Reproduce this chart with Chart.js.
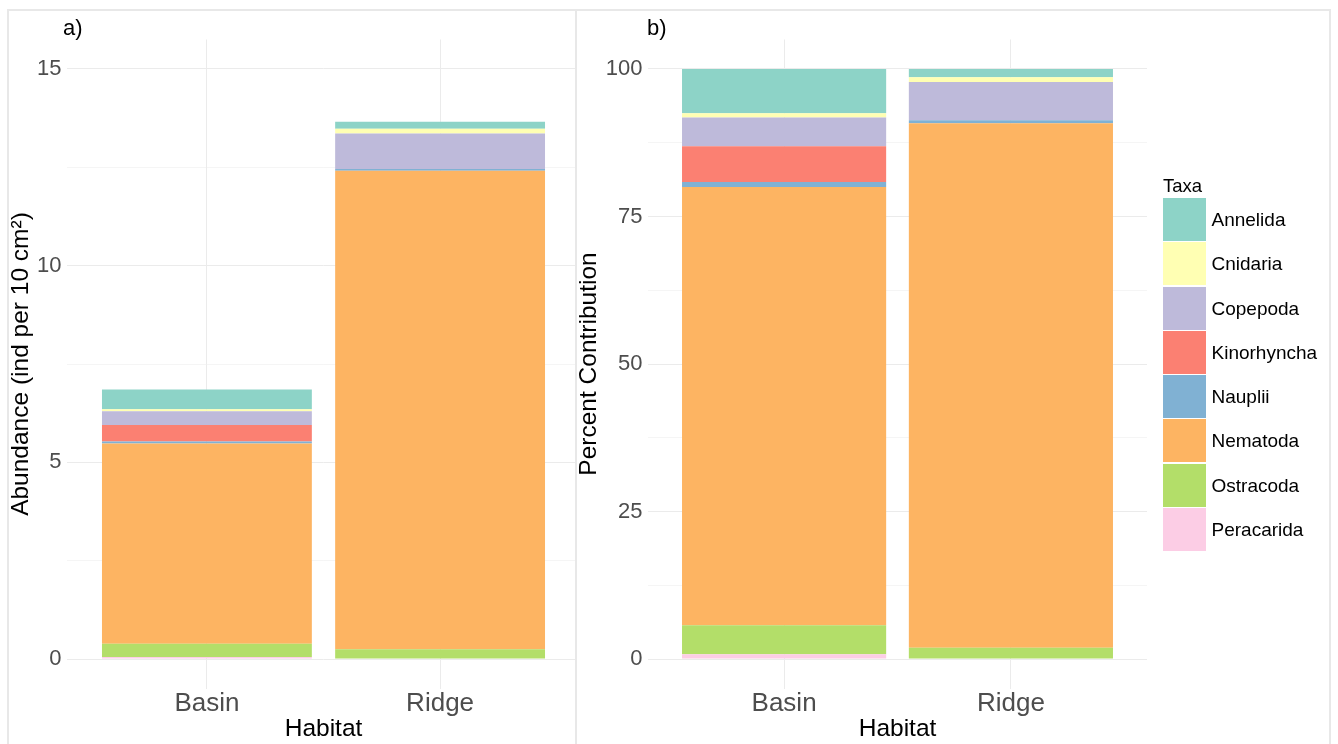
<!DOCTYPE html>
<html>
<head>
<meta charset="utf-8">
<script src="https://cdn.jsdelivr.net/npm/chart.js@4/dist/chart.umd.min.js"></script>
<style>
  html, body { margin: 0; padding: 0; background: #fff; }
  body { width: 1338px; height: 744px; position: relative; overflow: hidden;
         font-family: "Liberation Sans", Arial, Helvetica, sans-serif; }
  .panel { position: absolute; top: 0; height: 744px; overflow: hidden; }
  .frame { position: absolute; top: 9px; height: 760px; border: 2px solid #e8e8e8; box-sizing: border-box; pointer-events: none; }
  .tag { position: absolute; top: 17px; font-size: 22px; line-height: 22px; color: #000; }
  #legend { position: absolute; left: 1163px; top: 176px; color: #000; }
  #legend .title { font-size: 18.5px; line-height: 20px; height: 22px; }
  #legend .item { position: relative; height: 44.25px; }
  #legend .sw { position: absolute; left: 0; top: 0; width: 43px; height: 43px; }
  #legend .lab { position: absolute; left: 48.5px; top: 0; height: 43px; line-height: 43px; font-size: 19px; white-space: nowrap; }
</style>
</head>
<body>
<div class="panel" style="left:7px;width:568px;"><canvas id="abund" width="600" height="744"></canvas></div>
<div class="panel" style="left:575px;width:763px;"><canvas id="pct" width="763" height="744"></canvas></div>
<div class="frame" style="left:7px;width:570px;"></div>
<div class="frame" style="left:575px;width:756px;"></div>
<div class="tag" style="left:63px;">a)</div>
<div class="tag" style="left:647px;">b)</div>
<div id="legend"><div class="title">Taxa</div></div>
<script>
// Habitats along the x axis
const habitats = ['Basin', 'Ridge'];

// Taxa in legend order (first one sits on top of each stack)
const taxa = ['Annelida', 'Cnidaria', 'Copepoda', 'Kinorhyncha', 'Nauplii', 'Nematoda', 'Ostracoda', 'Peracarida'];
const taxaColors = ['#8DD3C7', '#FFFFB3', '#BEBADA', '#FB8072', '#80B1D3', '#FDB462', '#B3DE69', '#FCCDE5'];

// Abundance (ind per 10 cm²), one value per taxon
const basinAbundance = [0.50, 0.05, 0.35, 0.42, 0.05, 5.09, 0.34, 0.05];
const ridgeAbundance = [0.18, 0.12, 0.90, 0.00, 0.05, 12.16, 0.25, 0.00];

// Percent contribution, one value per taxon
const basinPercent = [7.5, 0.7, 4.9, 6.05, 0.85, 74.3, 4.9, 0.8];
const ridgePercent = [1.4, 0.8, 6.5, 0.0, 0.5, 88.9, 1.9, 0.0];

// Axis ticks (major labelled, minor only as grid)
const abundTicks = [0, 2.5, 5, 7.5, 10, 12.5, 15];
const abundLabels = [0, 5, 10, 15];
const pctTicks = [0, 12.5, 25, 37.5, 50, 62.5, 75, 87.5, 100];
const pctLabels = [0, 25, 50, 75, 100];

const TICK_GREY = '#4d4d4d';
const GRID = '#ebebeb';
const FONT = '"Liberation Sans", Arial, Helvetica, sans-serif';

function buildDatasets(basin, ridge) {
  const out = [];
  // stack from the last taxon (bottom) to the first (top)
  for (let i = taxa.length - 1; i >= 0; i--) {
    out.push({
      label: taxa[i],
      data: [{ x: 1, y: basin[i] }, { x: 2, y: ridge[i] }],
      backgroundColor: taxaColors[i],
      borderWidth: 0,
      categoryPercentage: 1,
      barPercentage: 0.9
    });
  }
  return out;
}

function makeChart(id, basin, ridge, yTitle, yMin, yMax, yTicks, yLabels, yAxisWidth, padRight) {
  return new Chart(document.getElementById(id), {
    type: 'bar',
    data: { datasets: buildDatasets(basin, ridge) },
    options: {
      responsive: false,
      animation: false,
      devicePixelRatio: 1,
      layout: { padding: { left: 0, top: 39.5, right: padRight, bottom: 0 } },
      plugins: { legend: { display: false }, tooltip: { enabled: false } },
      scales: {
        x: {
          type: 'linear',
          stacked: true,
          offset: false,
          min: 0.4,
          max: 2.6,
          afterBuildTicks: s => { s.ticks = habitats.map((h, i) => ({ value: i + 1 })); },
          afterFit: s => { s.height = 55.5; },
          border: { display: false },
          grid: { color: GRID, lineWidth: 1, drawTicks: false, offset: false },
          ticks: {
            autoSkip: false,
            maxRotation: 0,
            padding: 0,
            color: TICK_GREY,
            font: { family: FONT, size: 26 },
            callback: v => habitats[Math.round(v) - 1]
          },
          title: {
            display: true,
            text: 'Habitat',
            color: '#000',
            font: { family: FONT, size: 24.5 },
            padding: 0
          }
        },
        y: {
          stacked: true,
          min: yMin,
          max: yMax,
          afterBuildTicks: s => { s.ticks = yTicks.map(v => ({ value: v })); },
          afterFit: s => { s.width = yAxisWidth; },
          border: { display: false },
          grid: {
            color: GRID,
            drawTicks: false,
            lineWidth: c => (yLabels.includes(c.tick && c.tick.value) ? 1 : 0.5)
          },
          ticks: {
            autoSkip: false,
            padding: 5.5,
            color: TICK_GREY,
            font: { family: FONT, size: 22 },
            callback: v => (yLabels.includes(v) ? String(v) : '')
          },
          title: {
            display: true,
            text: yTitle,
            color: '#000',
            font: { family: FONT, size: 24.5 },
            padding: 0
          }
        }
      }
    }
  });
}

makeChart('abund', basinAbundance, ridgeAbundance, 'Abundance (ind per 10 cm²)',
          -0.75, 15.75, abundTicks, abundLabels, 60, 27);
makeChart('pct', basinPercent, ridgePercent, 'Percent Contribution',
          -5, 105, pctTicks, pctLabels, 73, 191);

// Legend
const legend = document.getElementById('legend');
taxa.forEach((t, i) => {
  const item = document.createElement('div');
  item.className = 'item';
  const sw = document.createElement('div');
  sw.className = 'sw';
  sw.style.background = taxaColors[i];
  const lab = document.createElement('div');
  lab.className = 'lab';
  lab.textContent = t;
  item.appendChild(sw);
  item.appendChild(lab);
  legend.appendChild(item);
});
</script>
</body>
</html>
